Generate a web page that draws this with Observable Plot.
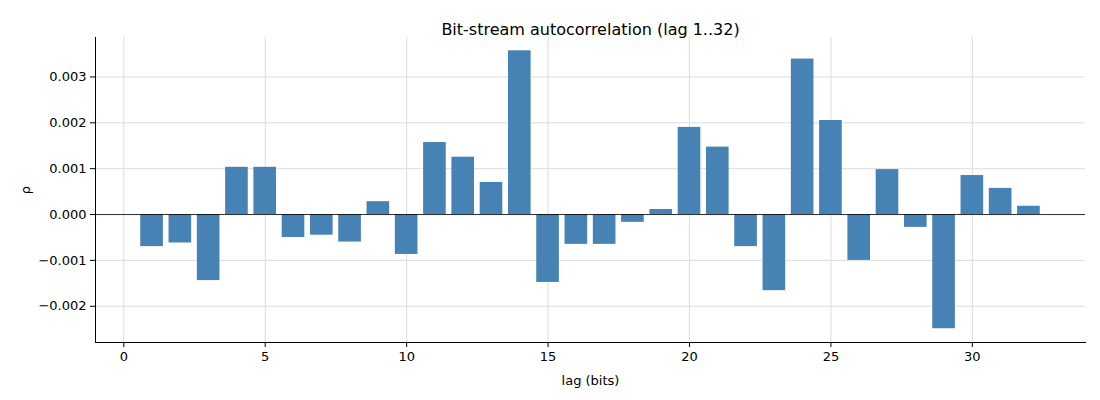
<!DOCTYPE html>
<html><head><meta charset="utf-8">
<script src="https://cdn.jsdelivr.net/npm/d3@7"></script>
<script src="https://cdn.jsdelivr.net/npm/@observablehq/plot@0.6"></script>
<style>body{margin:0;background:#fff;font-family:"DejaVu Sans",sans-serif}</style>
</head><body><div id="c"></div>
<script>
const lags = d3.range(1, 33);
const rho = [-0.00070,-0.00062,-0.00144,0.00103,0.00103,-0.00050,-0.00045,-0.00060,0.00028,-0.00087,
0.00157,0.00125,0.00070,0.00357,-0.00148,-0.00065,-0.00065,-0.00017,0.00011,0.00190,
0.00147,-0.00070,-0.00166,0.00339,0.00205,-0.00100,0.00098,-0.00028,-0.00249,0.00085,
0.00057,0.00018];
const xTicks = [0,5,10,15,20,25,30];
const yTicks = [-0.002,-0.001,0,0.001,0.002,0.003];
const data = lags.map((l,i)=>({lag:l, rho:rho[i]}));
const chart = Plot.plot({
  width:1100, height:400,
  marginTop:37, marginBottom:58, marginLeft:95, marginRight:15,
  style:{fontFamily:"DejaVu Sans, sans-serif", fontSize:"13px", color:"#000"},
  x:{domain:[-1,34], ticks:xTicks, tickFormat:d=>d, label:"lag (bits)", labelAnchor:"center", labelArrow:"none", labelOffset:42, grid:true, tickSize:5},
  y:{domain:[-0.00279,0.00386], ticks:yTicks, tickFormat:d=>d.toFixed(3).replace("-","−"), label:"ρ", labelAnchor:"center", labelArrow:"none", labelOffset:75, grid:true, tickSize:5},
  marks:[
    Plot.rect(data,{x1:d=>d.lag-0.4, x2:d=>d.lag+0.4, y1:0, y2:"rho", fill:"#4682b4"}),
    Plot.ruleY([0],{stroke:"#000", strokeWidth:0.8}),
    Plot.axisX({ticks:xTicks, tickFormat:d=>d, label:"lag (bits)", labelAnchor:"center", labelArrow:"none", labelOffset:42, tickSize:5}),
    Plot.axisY({ticks:yTicks, tickFormat:d=>d.toFixed(3).replace("-","−"), label:"ρ", labelAnchor:"center", labelArrow:"none", labelOffset:75, tickSize:5}),
    Plot.frame({anchor:"left"}),
    Plot.frame({anchor:"bottom"}),
    Plot.text(["Bit-stream autocorrelation (lag 1..32)"],{frameAnchor:"top", dy:-14, fontSize:16})
  ]
});
chart.querySelectorAll('[aria-label="x-grid"], [aria-label="y-grid"]').forEach(g=>{g.setAttribute("stroke","#ddd");g.setAttribute("stroke-opacity","1");});
document.getElementById("c").append(chart);
</script></body></html>
